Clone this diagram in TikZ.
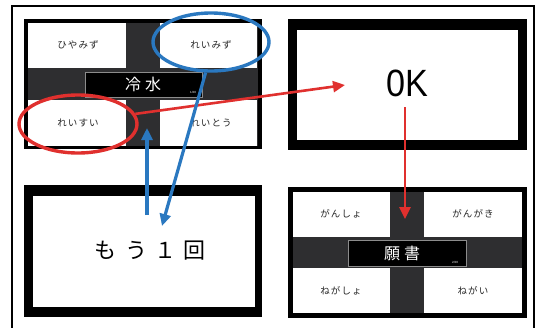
\documentclass[tikz,border=0pt]{standalone}
\usepackage{fontspec}
\setmainfont{Liberation Sans}
\newfontfamily\jp{Noto Sans CJK JP}
\newfontfamily\jpw[LetterSpace=12]{Noto Sans CJK JP}
\usetikzlibrary{arrows.meta,shapes.geometric}
\definecolor{band}{HTML}{2E2E30}
\definecolor{redc}{HTML}{E0302E}
\definecolor{bluec}{HTML}{2A78C0}
\tikzset{
  quad/.style={fill=white,draw=none},
  qtext/.style={font=\jpw\fontsize{9.5}{10}\selectfont,text=black!85},
  lbl/.style={fill=black,draw=black!45,line width=0.8pt},
  ltext/.style={font=\jp\fontsize{16}{17}\selectfont,text=white},
  tiny/.style={font=\fontsize{3}{3}\selectfont,text=white},
  redarrow/.style={draw=redc,line width=2.6pt,-{Triangle[length=12pt,width=11pt]}},
  bluearrow/.style={draw=bluec,line width=3.2pt,-{Triangle[length=12pt,width=11pt]}},
  ring/.style={ellipse,line width=3.4pt,fill=none},
}
\begin{document}
\begin{tikzpicture}[x=1pt,y=-1pt]
\useasboundingbox (0,0) rectangle (537,327);
\fill[white] (0,0) rectangle (537,327);
% outer frame
\draw[line width=1.6pt] (12,340) -- (12,6) -- (534,6) -- (534,340);

% panel 1
\fill[black] (24,19) rectangle (262,149);
\fill[band] (28,23) rectangle (258,146);
\fill[quad] (28,23) rectangle (126,68);
\fill[quad] (160,23) rectangle (257,68);
\fill[quad] (28,100) rectangle (126,146);
\fill[quad] (160,100) rectangle (257,146);
\node[qtext] (p1a) at (78,45) {ひやみず};
\node[qtext] (p1b) at (211,45) {れいみず};
\node[qtext] (p1c) at (78,123) {れいすい};
\node[qtext] (p1d) at (211,123) {れいとう};
\draw[lbl] (85,72) rectangle (202,97);
\node[ltext] (p1l) at (143,84) {冷\hspace{4pt}水};
\node[tiny] (p1n) at (193,92) {1/20};

% panel 2
\fill[black] (288,19) rectangle (527,150);
\fill[white] (297,30) rectangle (518,140);
\node[font=\fontsize{38}{40}\selectfont,xscale=0.9] (ok) at (407,83) {0K};

% panel 3
\fill[black] (24,185) rectangle (262,317);
\fill[white] (33,196) rectangle (255,307);
\node[font=\jp\fontsize{22}{24}\selectfont] (again) at (150,251) {も\hspace{9pt}う\hspace{7pt}１\hspace{7pt}回};

% panel 4
\fill[black] (288,187) rectangle (527,318);
\fill[band] (293,192) rectangle (522,313);
\fill[quad] (293,192) rectangle (390,237);
\fill[quad] (424,192) rectangle (522,237);
\fill[quad] (293,268) rectangle (390,313);
\fill[quad] (424,268) rectangle (522,313);
\node[qtext] (p4a) at (341,214) {がんしょ};
\node[qtext] (p4b) at (473,214) {がんがき};
\node[qtext] (p4c) at (341,291) {ねがしょ};
\node[qtext] (p4d) at (473,291) {ねがい};
\draw[lbl] (348,240) rectangle (466,266);
\node[ltext] (p4l) at (402,253) {願\hspace{4pt}書};
\node[tiny] (p4n) at (455,262) {2/20};

% highlight rings
\node[ring,draw=redc,minimum width=118pt,minimum height=58pt] (redE) at (78,124) {};
\node[ring,draw=bluec,minimum width=116pt,minimum height=58pt] (blueE) at (211,42) {};

% connectors
\coordinate (okin) at (345,85);
\coordinate (down0) at (405,107);
\coordinate (down1) at (405,219);
\coordinate (up0) at (147,215);
\coordinate (up1) at (147,128);
\coordinate (bl1) at (162,226);
\draw[redarrow] (redE.10) -- (okin);
\draw[redarrow] (down0) -- (down1);
\draw[bluearrow] (up0) -- (up1);
\draw[bluearrow] (blueE.-100) -- (bl1);
\end{tikzpicture}
\end{document}
